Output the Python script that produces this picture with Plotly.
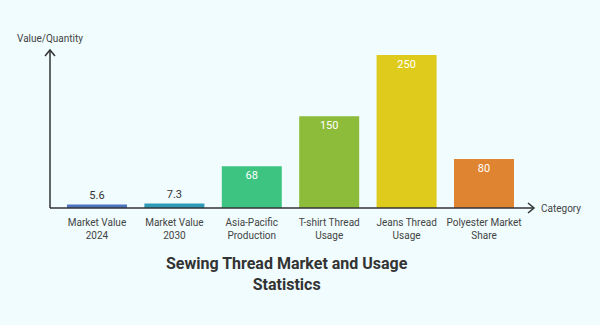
import plotly.graph_objects as go

categories = ["Market Value 2024", "Market Value 2030", "Asia-Pacific Production",
              "T-shirt Thread Usage", "Jeans Thread Usage", "Polyester Market Share"]
tick_labels = ["Market Value<br>2024", "Market Value<br>2030", "Asia-Pacific<br>Production",
               "T-shirt Thread<br>Usage", "Jeans Thread<br>Usage", "Polyester Market<br>Share"]
values = [5.6, 7.3, 68, 150, 250, 80]
value_text = ["5.6", "7.3", "68", "150", "250", "80"]
colors = ["#4E73BE", "#2E9AB8", "#3CC480", "#8DBB3A", "#DFCB1B", "#DF8431"]

BG = "#F0FCFE"
AXIS = "#333333"
FONT = "Roboto, Arial, sans-serif"

x_idx = list(range(len(categories)))
positions = ["outside" if v < 20 else "inside" for v in values]
text_colors = ["#333333" if p == "outside" else "#FFFFFF" for p in positions]

fig = go.Figure(go.Bar(
    x=x_idx, y=values, marker_color=colors, marker_line_width=0,
    text=value_text, textposition=positions, insidetextanchor="end",
    textfont=dict(family=FONT, size=11, color=text_colors),
    cliponaxis=False, hoverinfo="skip",
))

fig.update_layout(
    width=600, height=325,
    margin=dict(l=50, r=66, t=50, b=117),
    paper_bgcolor=BG, plot_bgcolor=BG,
    bargap=0.225, showlegend=False,
    font=dict(family=FONT, color="#444444"),
    xaxis=dict(range=[-0.607, 5.646], tickmode="array", tickvals=x_idx, ticktext=tick_labels,
               showgrid=False, zeroline=False, showline=False, ticks="",
               ticklabelstandoff=7,
               tickfont=dict(family=FONT, size=10, color="#444444")),
    yaxis=dict(range=[0, 258], showgrid=False, zeroline=False, showline=False,
               showticklabels=False, ticks=""),
    uniformtext=dict(mode=False),
)

line = dict(color=AXIS, width=1.5)
fig.add_shape(type="line", xref="paper", yref="paper", x0=0, x1=0, y0=0, y1=1, line=line)
fig.add_shape(type="line", xref="paper", yref="paper", x0=0, x1=1, y0=0, y1=0, line=line)
fig.add_shape(type="path", xref="paper", yref="paper", xsizemode="pixel", ysizemode="pixel",
              xanchor=0, yanchor=1, path="M -5,-6 L 0,0 L 5,-6", line=line)
fig.add_shape(type="path", xref="paper", yref="paper", xsizemode="pixel", ysizemode="pixel",
              xanchor=1, yanchor=0, path="M -6,5 L 0,0 L -6,-5", line=line)

fig.add_annotation(text="Value/Quantity", xref="paper", yref="paper", x=0, y=1,
                   yshift=12, showarrow=False, xanchor="center", yanchor="middle",
                   font=dict(family=FONT, size=10, color="#444444"))
fig.add_annotation(text="Category", xref="paper", yref="paper", x=1, y=0,
                   xshift=5, showarrow=False, xanchor="left", yanchor="middle",
                   font=dict(family=FONT, size=10, color="#444444"))
fig.add_annotation(text="<b>Sewing Thread Market and Usage<br>Statistics</b>",
                   xref="paper", yref="paper", x=0.49, y=-0.418, showarrow=False,
                   xanchor="center", yanchor="middle", align="center",
                   font=dict(family=FONT, size=16, color="#333333"))

fig.write_html("out.html")
